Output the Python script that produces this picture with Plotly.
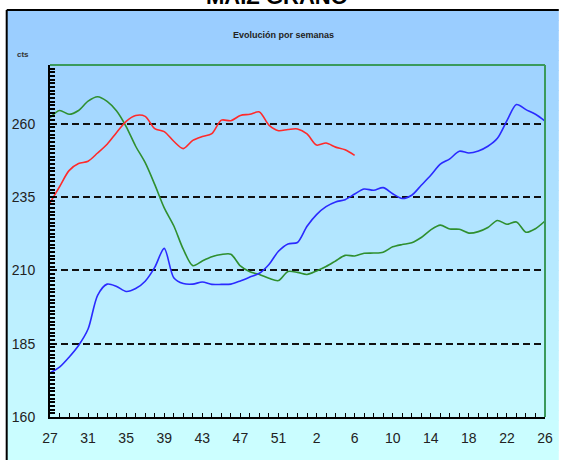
import plotly.graph_objects as go

# Semanas de campaña (27 a 53, luego 1 a 26)
weeks = [str(w) for w in list(range(27, 54)) + list(range(1, 27))]
tick_every = 4

# Cotizaciones semanales (cts)
serie_azul = [175.0, 177.0, 180.4, 184.4, 190.0, 201.5, 205.3, 204.5, 202.8, 203.8,
              206.3, 211.0, 217.5, 207.5, 205.5, 205.3, 206.0, 205.2, 205.2, 205.3,
              206.4, 207.7, 209.0, 212.0, 216.5, 219.0, 219.5, 225.0, 229.0, 231.7,
              233.3, 234.1, 236.0, 237.7, 237.3, 238.2, 236.1, 234.5, 235.6, 239.0,
              242.4, 246.2, 248.0, 250.6, 250.0, 250.7, 252.3, 255.0, 261.0, 266.5,
              264.8, 263.2, 260.9]
serie_roja = [233.0, 238.5, 244.0, 246.4, 247.2, 250.0, 253.0, 257.0, 260.8, 262.8,
              262.5, 258.3, 257.3, 254.0, 251.5, 254.3, 255.6, 256.6, 261.2, 261.0,
              262.8, 263.2, 264.0, 259.5, 257.6, 258.0, 258.2, 256.5, 252.7, 253.4,
              252.0, 251.1, 249.2]
serie_verde = [262.0, 264.5, 263.2, 264.5, 267.7, 269.2, 267.6, 264.3, 259.0, 252.3,
               246.7, 239.3, 231.3, 225.2, 217.2, 211.6, 213.2, 214.6, 215.4, 215.5,
               211.5, 209.5, 208.6, 207.3, 206.5, 209.6, 209.3, 208.6, 209.8, 211.3,
               213.2, 215.1, 214.9, 215.8, 215.9, 216.2, 218.0, 218.8, 219.4, 221.2,
               223.8, 225.4, 224.1, 224.0, 222.7, 223.2, 224.6, 227.0, 225.7, 226.5,
               223.0, 224.2, 226.8]

y_min, y_max, y_step = 160, 280, 25

W, H = 565, 460
L, R, T, B = 50, 12, 65, 43
pw, ph = W - L - R, H - T - B


def px(x):
    return (x - L) / pw


def py(y):
    return 1 - (y - T) / ph


x = list(range(len(weeks)))

fig = go.Figure()
series = [
    ("Serie 1", serie_verde, "#2f8f2f"),
    ("Serie 2", serie_roja, "#ff2a2a"),
    ("Serie 3", serie_azul, "#2a2aff"),
]
for name, vals, col in series:
    fig.add_trace(go.Scatter(
        x=x[:len(vals)], y=vals, name=name, mode="lines",
        line=dict(color=col, width=1.6, shape="spline", smoothing=0.8),
    ))

# fondo degradado del panel
shapes = []
top_c, bot_c = (153, 204, 255), (204, 255, 255)
n = 45
y0 = 10
step = (H - y0) / n
for i in range(n):
    t = i / (n - 1)
    c = tuple(round(a + (b - a) * t) for a, b in zip(top_c, bot_c))
    shapes.append(dict(type="rect", xref="paper", yref="paper", layer="below",
                       x0=px(6), x1=px(W + 2), y0=py(y0 + step * (i + 1) + 1),
                       y1=py(y0 + step * i), line=dict(width=0),
                       fillcolor="rgb(%d,%d,%d)" % c))
# borde negro
shapes.append(dict(type="line", xref="paper", yref="paper", layer="below",
                   x0=px(6), x1=px(6), y0=py(10), y1=py(H + 2),
                   line=dict(color="black", width=2)))
shapes.append(dict(type="line", xref="paper", yref="paper", layer="below",
                   x0=px(6), x1=px(W + 2), y0=py(10), y1=py(10),
                   line=dict(color="black", width=2)))
# borde verde del área de trazado
shapes.append(dict(type="line", xref="paper", yref="paper",
                   x0=0, x1=1, y0=1, y1=1, line=dict(color="#3a9a5c", width=2)))
shapes.append(dict(type="line", xref="paper", yref="paper",
                   x0=1, x1=1, y0=0, y1=1, line=dict(color="#3a9a5c", width=2)))

fig.update_layout(
    width=W, height=H,
    margin=dict(l=L, r=R, t=T, b=B),
    paper_bgcolor="white", plot_bgcolor="white",
    showlegend=False,
    font=dict(family="Liberation Sans, Arial, sans-serif", color="#222"),
    shapes=shapes,
    annotations=[
        dict(text="<b>MAIZ GRANO</b>", xref="paper", yref="paper",
             x=px(281), y=py(11), xanchor="center", yanchor="bottom",
             showarrow=False, font=dict(size=22, color="black")),
        dict(text="<b>Evolución por semanas</b>", xref="paper", yref="paper",
             x=px(287), y=py(35), xanchor="center", yanchor="middle",
             showarrow=False, font=dict(size=9, color="#222")),
        dict(text="<b>cts</b>", xref="paper", yref="paper",
             x=px(23), y=py(54), xanchor="center", yanchor="middle",
             showarrow=False, font=dict(size=8, color="#333")),
    ],
)

fig.update_xaxes(
    range=[0, len(weeks) - 1],
    tickmode="array",
    tickvals=x[::tick_every], ticktext=weeks[::tick_every],
    ticks="inside", ticklen=4, tickwidth=1, tickcolor="black",
    minor=dict(dtick=1, tick0=0, ticks="inside", ticklen=4, tickwidth=1, tickcolor="black"),
    showline=True, linecolor="black", linewidth=2,
    showgrid=False, zeroline=False,
    tickfont=dict(size=14), ticklabelstandoff=7,
)
fig.update_yaxes(
    range=[y_min, y_max],
    tickmode="linear", tick0=y_min, dtick=y_step,
    ticks="inside", ticklen=5, tickwidth=2, tickcolor="black",
    minor=dict(dtick=1.25, tick0=y_min, ticks="inside", ticklen=5, tickwidth=2, tickcolor="black"),
    showline=True, linecolor="black", linewidth=2,
    showgrid=True, gridcolor="#111", gridwidth=1.6, griddash="7px,4px",
    zeroline=False,
    tickfont=dict(size=14), ticklabelstandoff=10,
)

# sin el margen por defecto del body, la figura empieza en la esquina
fig.write_html("out.html", config={"displayModeBar": False},
               post_script="document.body.style.margin = '0';")
